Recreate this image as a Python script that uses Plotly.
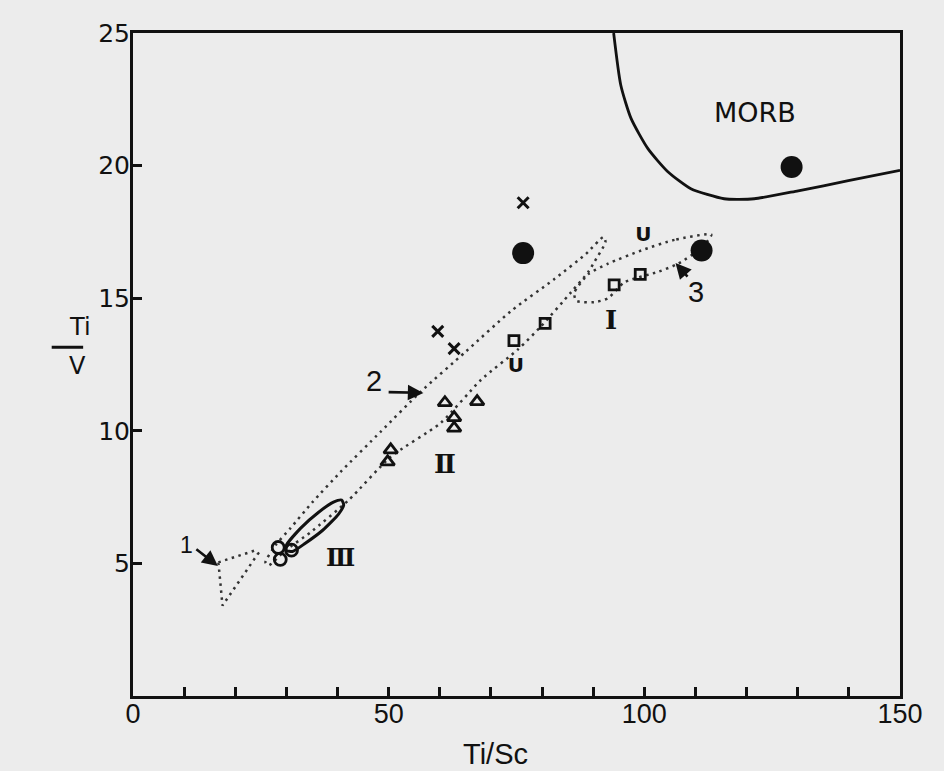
import plotly.graph_objects as go

# ---- data ----
filled_x = [76.3, 111.2, 128.8]
filled_y = [16.7, 16.8, 19.95]

cross_x = [76.3, 59.6, 62.8]
cross_y = [18.6, 13.75, 13.1]

square_x = [74.5, 80.6, 94.1, 99.2]
square_y = [13.4, 14.05, 15.5, 15.9]

u_x = [74.9, 99.8]
u_y = [12.4, 17.35]

tri_x = [49.8, 50.4, 61.0, 62.8, 62.8, 67.3]
tri_y = [8.83, 9.28, 11.06, 10.5, 10.1, 11.1]

ocirc_x = [28.4, 31.0, 28.8]
ocirc_y = [5.6, 5.5, 5.15]

field1_x = [16.7, 23.9, 24.5, 17.5, 17.1, 16.7]
field1_y = [5.04, 5.49, 5.38, 3.41, 4.24, 5.04]

field2_x = [25.9, 27.85, 30.8, 35.1, 40.6, 48.4, 56.3, 65.1, 73.9, 82.4, 88.6, 92.0, 92.4,
            90.2, 89.0, 85.7, 79.8, 75.3, 68.1, 60.2, 50.4, 42.2, 34.7, 29.8, 26.5, 25.9]
field2_y = [5.04, 5.68, 6.33, 7.31, 8.45, 9.96, 11.48, 12.99, 14.51, 15.72, 16.67, 17.31, 17.12,
            16.36, 15.98, 15.23, 13.94, 13.07, 11.93, 10.30, 9.02, 7.39, 6.17, 5.49, 4.92, 5.04]

field3_x = [113.1, 105.9, 99.4, 92.9, 89.0, 86.3, 86.7, 90.2, 92.9, 96.1, 102.8, 106.6, 111.2, 113.1]
field3_y = [17.4, 17.2, 16.8, 16.3, 15.9, 15.2, 14.9, 14.85, 15.0, 15.6, 16.0, 16.3, 16.9, 17.4]

ell_x = [30.0, 32.8, 36.3, 39.2, 40.8, 41.2, 40.2, 37.1, 33.7, 31.2, 30.0, 30.0]
ell_y = [5.68, 6.33, 6.93, 7.31, 7.39, 7.2, 6.86, 6.25, 5.76, 5.45, 5.49, 5.68]

morb_x = [94.0, 95.4, 97.4, 100.7, 104.6, 109.1, 115.6, 121.5, 130.1, 139.9, 150.0]
morb_y = [25.0, 23.03, 21.78, 20.64, 19.77, 19.13, 18.75, 18.75, 19.05, 19.43, 19.82]

x_ticks = [0, 50, 100, 150]
y_ticks = [5, 10, 15, 20, 25]

BG = "#ececec"
INK = "#111111"
DOT = "#333333"

fig = go.Figure()

def outline(x, y, dash, color, width, shape="spline"):
    fig.add_trace(go.Scatter(x=x, y=y, mode="lines",
                             line=dict(color=color, width=width, dash=dash, shape=shape,
                                       smoothing=0.6),
                             hoverinfo="skip", showlegend=False))

DOTDASH = "2.5px,4.5px"
outline(field1_x, field1_y, DOTDASH, DOT, 2.5, "linear")
outline(field2_x, field2_y, DOTDASH, DOT, 2.5)
outline(field3_x, field3_y, DOTDASH, DOT, 2.5)
outline(ell_x, ell_y, "solid", INK, 3)
outline(morb_x, morb_y, "solid", INK, 2.8)

fig.add_trace(go.Scatter(x=filled_x, y=filled_y, mode="markers",
                         marker=dict(symbol="circle", size=22, color=INK), showlegend=False))
fig.add_trace(go.Scatter(x=cross_x, y=cross_y, mode="markers",
                         marker=dict(symbol="x-thin", size=11, color=INK,
                                     line=dict(width=3, color=INK)),
                         showlegend=False))
fig.add_trace(go.Scatter(x=square_x, y=square_y, mode="markers",
                         marker=dict(symbol="square-open", size=10, color=INK,
                                     line=dict(width=2.8, color=INK)),
                         showlegend=False))
fig.add_trace(go.Scatter(x=tri_x, y=tri_y, mode="markers",
                         marker=dict(symbol="triangle-up-open", size=12, color=INK,
                                     line=dict(width=2.8, color=INK)),
                         showlegend=False))
fig.add_trace(go.Scatter(x=ocirc_x, y=ocirc_y, mode="markers",
                         marker=dict(symbol="circle-open", size=12, color=INK,
                                     line=dict(width=2.8, color=INK)),
                         showlegend=False))
fig.add_trace(go.Scatter(x=u_x, y=u_y, mode="text", text=["<b>U</b>"] * len(u_x),
                         textfont=dict(family="DejaVu Sans", size=20, color=INK),
                         showlegend=False))

# labels
def label(x, y, t, size=22, fam="Liberation Sans", bold=False):
    fig.add_annotation(x=x, y=y, text=("<b>%s</b>" % t) if bold else t, showarrow=False,
                       font=dict(family=fam, size=size, color=INK))

label(40.5, 5.24, "Ⅲ", 24, "DejaVu Serif", True)
label(61.1, 8.75, "Ⅱ", 26, "DejaVu Serif", True)
label(93.4, 14.18, "Ⅰ", 26, "DejaVu Serif", True)
label(121.6, 22.02, "MORB", 27, "DejaVu Sans")
label(10.4, 5.69, "1", 23)
label(47.2, 11.88, "2", 29)
label(110.2, 15.23, "3", 29)

# arrows
for (hx, hy, tx, ty) in [(16.6, 4.9, 12.1, 5.58), (56.8, 11.43, 49.7, 11.46), (106.1, 16.33, 108.7, 15.76)]:
    fig.add_annotation(x=hx, y=hy, ax=tx, ay=ty, xref="x", yref="y", axref="x", ayref="y",
                       text="", showarrow=True, arrowhead=2, arrowsize=1.2, arrowwidth=2.6,
                       arrowcolor=INK)

# y axis title as fraction Ti / V
fig.add_annotation(x=-0.086, y=0.556, xref="paper", yref="paper", text="Ti", showarrow=False,
                   yanchor="middle", font=dict(family="DejaVu Sans", size=24, color=INK))
fig.add_annotation(x=-0.086, y=0.497, xref="paper", yref="paper", text="V", showarrow=False,
                   yanchor="middle", font=dict(family="DejaVu Sans", size=24, color=INK))
fig.add_shape(type="line", xref="paper", yref="paper", x0=-0.106, x1=-0.065, y0=0.526, y1=0.526,
              line=dict(color=INK, width=3))

# x axis title
fig.add_annotation(x=0.473, y=-0.0875, xref="paper", yref="paper", text="Ti/Sc", showarrow=False,
                   yanchor="middle", font=dict(family="Liberation Sans", size=29, color=INK))

axis_common = dict(showgrid=False, zeroline=False, showline=True, linecolor=INK, linewidth=3,
                   mirror=True, ticks="inside", ticklen=9, tickwidth=2.5, tickcolor=INK)

fig.update_xaxes(range=[0, 150], tickvals=x_ticks, ticktext=[str(v) for v in x_ticks],
                 tickfont=dict(family="Liberation Sans", size=27, color=INK),
                 ticklabelstandoff=-8,
                 minor=dict(dtick=10, ticks="inside", ticklen=9, tickwidth=2.5, tickcolor=INK,
                            showgrid=False),
                 **axis_common)
fig.update_yaxes(range=[0, 25], tickvals=y_ticks, ticktext=[str(v) for v in y_ticks],
                 tickfont=dict(family="DejaVu Sans", size=25, color=INK),
                 ticklabelstandoff=-5,
                 **axis_common)

fig.update_layout(width=944, height=771, paper_bgcolor=BG, plot_bgcolor=BG,
                  margin=dict(l=133, r=44, t=33, b=75), showlegend=False)

fig.write_html("out.html", config={"displayModeBar": False},
               post_script="document.body.style.margin='0';"
                           "document.body.style.background='#ececec';")
